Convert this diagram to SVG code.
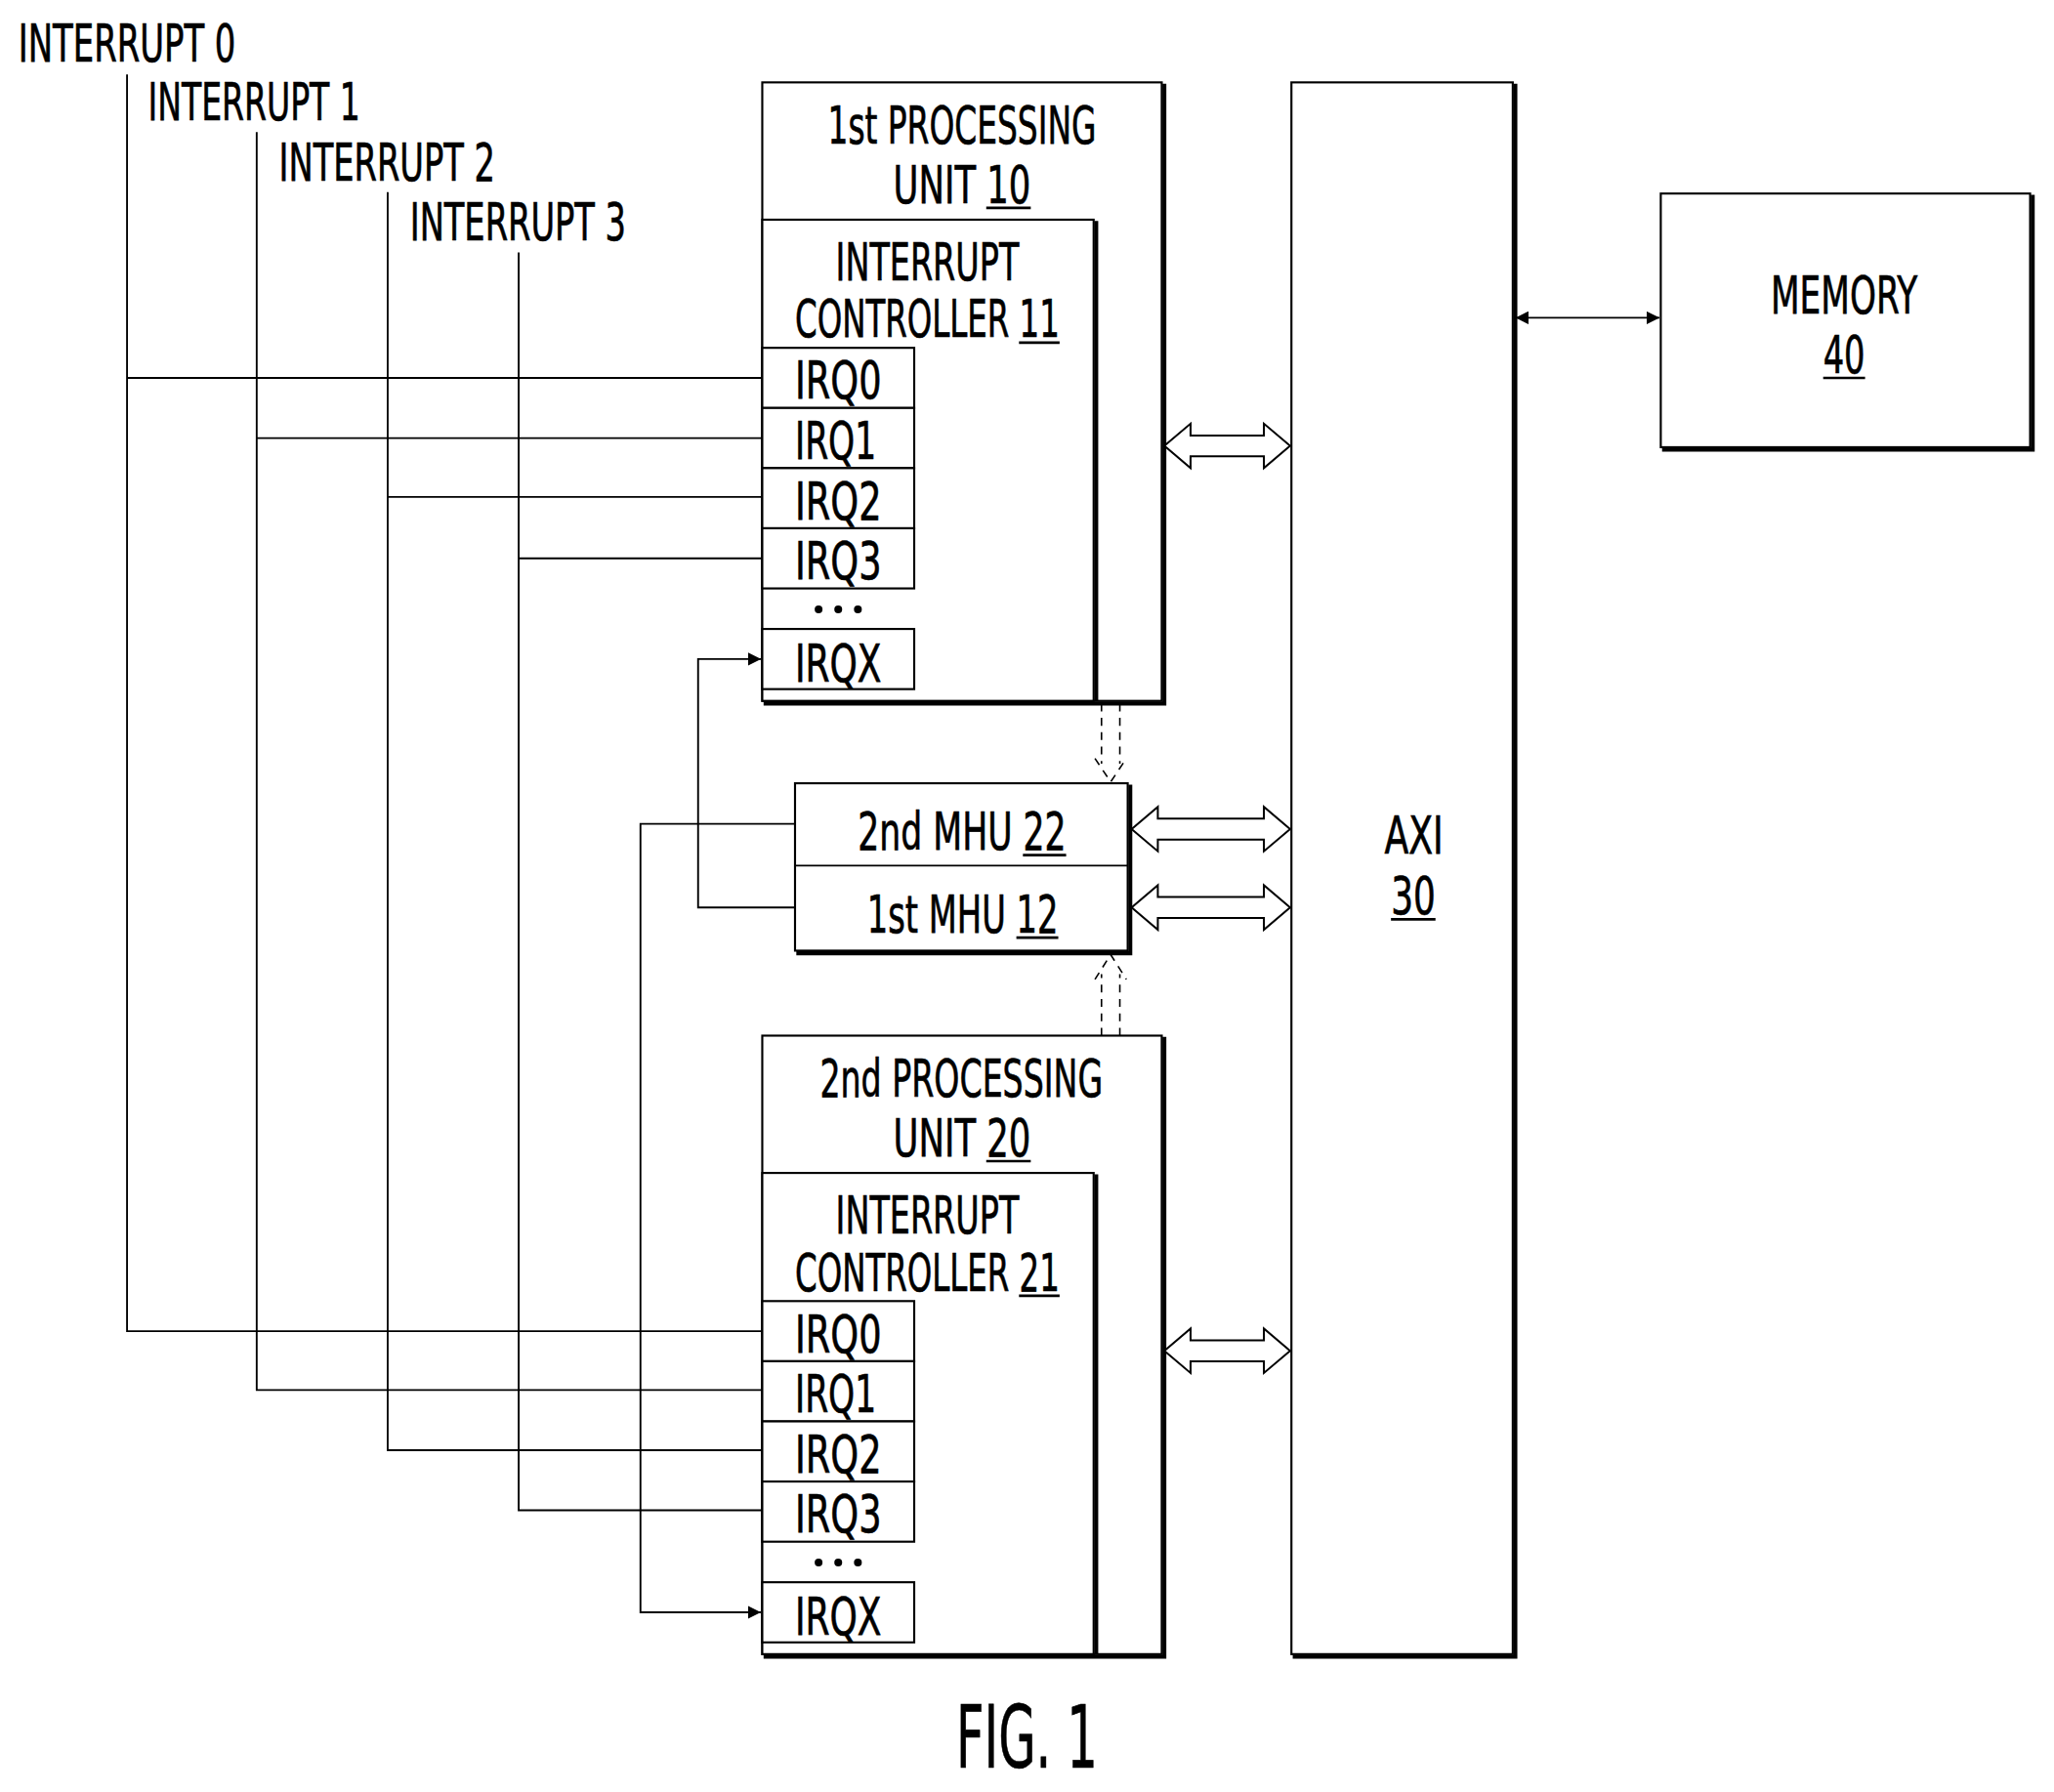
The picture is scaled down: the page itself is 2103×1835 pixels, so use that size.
<svg xmlns="http://www.w3.org/2000/svg" width="2103" height="1835" viewBox="0 0 2103 1835">
<defs>
<style>
text{font-family:"DejaVu Sans Condensed","DejaVu Sans",sans-serif;font-size:40px;fill:#000;stroke:#000;stroke-width:0.5}
.b{fill:#fff;stroke:#000;stroke-width:1.6}
.sh{fill:none;stroke:#000;stroke-width:3}
.l{fill:none;stroke:#000;stroke-width:1.4}
.u{stroke:#000;stroke-width:2}
.d{fill:none;stroke:#000;stroke-width:1.2;stroke-dasharray:6,5}
.ba{fill:#fff;stroke:#000;stroke-width:1.5}
</style>
<marker id="ah" viewBox="0 0 10 10" refX="10" refY="5" markerWidth="10" markerHeight="10" markerUnits="userSpaceOnUse" orient="auto-start-reverse"><path d="M0,0 L10,5 L0,10 Z" fill="#000"/></marker>
</defs>
<rect width="2103" height="1835" fill="#fff"/>
<g transform="scale(1.341,1.339)">
<g id="labels">
<text x="14" y="47" textLength="166" lengthAdjust="spacingAndGlyphs">INTERRUPT 0</text>
<text x="113" y="92" textLength="162" lengthAdjust="spacingAndGlyphs">INTERRUPT 1</text>
<text x="213" y="138" textLength="165" lengthAdjust="spacingAndGlyphs">INTERRUPT 2</text>
<text x="313" y="184" textLength="165" lengthAdjust="spacingAndGlyphs">INTERRUPT 3</text>
</g>
<g id="pu1">
<rect class="b" x="582" y="63" width="305" height="473"/>
<polyline class="sh" points="889,64 889,538 583,538"/>
<text x="632" y="110" textLength="205" lengthAdjust="spacingAndGlyphs">1st PROCESSING</text>
<text x="682" y="155" textLength="105" lengthAdjust="spacingAndGlyphs">UNIT 10</text>
<line class="u" x1="753" y1="159" x2="787" y2="159"/>
</g>
<g id="ic11">
<rect class="b" x="582" y="168" width="253" height="368"/>
<line class="sh" x1="837" y1="169" x2="837" y2="536"/>
<text x="638" y="214" textLength="140" lengthAdjust="spacingAndGlyphs">INTERRUPT</text>
<text x="607" y="258" textLength="202" lengthAdjust="spacingAndGlyphs">CONTROLLER 11</text>
<line class="u" x1="778" y1="262" x2="809" y2="262"/>
<rect class="b" x="582" y="266" width="116" height="46"/><text x="607" y="305" textLength="66" lengthAdjust="spacingAndGlyphs">IRQ0</text>
<rect class="b" x="582" y="312" width="116" height="46"/><text x="607" y="351" textLength="62" lengthAdjust="spacingAndGlyphs">IRQ1</text>
<rect class="b" x="582" y="358" width="116" height="46"/><text x="607" y="397" textLength="66" lengthAdjust="spacingAndGlyphs">IRQ2</text>
<rect class="b" x="582" y="404" width="116" height="46"/><text x="607" y="443" textLength="66" lengthAdjust="spacingAndGlyphs">IRQ3</text>
<circle cx="625" cy="466" r="3"/><circle cx="640" cy="466" r="3"/><circle cx="655" cy="466" r="3"/>
<rect class="b" x="582" y="481" width="116" height="46"/><text x="607" y="521" textLength="66" lengthAdjust="spacingAndGlyphs">IRQX</text>
</g>
<g id="mhu">
<rect class="b" x="607" y="599" width="254" height="128"/>
<polyline class="sh" points="863,600 863,729 608,729"/>
<line class="l" x1="607" y1="662" x2="861" y2="662"/>
<text x="655" y="650" textLength="159" lengthAdjust="spacingAndGlyphs">2nd MHU 22</text>
<line class="u" x1="781" y1="654" x2="814" y2="654"/>
<text x="662" y="713" textLength="146" lengthAdjust="spacingAndGlyphs">1st MHU 12</text>
<line class="u" x1="776" y1="717" x2="808" y2="717"/>
</g>
<g id="pu2">
<rect class="b" x="582" y="792" width="305" height="473"/>
<polyline class="sh" points="889,793 889,1267 583,1267"/>
<text x="626" y="839" textLength="216" lengthAdjust="spacingAndGlyphs">2nd PROCESSING</text>
<text x="682" y="884" textLength="105" lengthAdjust="spacingAndGlyphs">UNIT 20</text>
<line class="u" x1="753" y1="888" x2="787" y2="888"/>
</g>
<g id="ic21">
<rect class="b" x="582" y="897" width="253" height="368"/>
<line class="sh" x1="837" y1="898" x2="837" y2="1265"/>
<text x="638" y="943" textLength="140" lengthAdjust="spacingAndGlyphs">INTERRUPT</text>
<text x="607" y="987" textLength="202" lengthAdjust="spacingAndGlyphs">CONTROLLER 21</text>
<line class="u" x1="778" y1="991" x2="809" y2="991"/>
<rect class="b" x="582" y="995" width="116" height="46"/><text x="607" y="1034" textLength="66" lengthAdjust="spacingAndGlyphs">IRQ0</text>
<rect class="b" x="582" y="1041" width="116" height="46"/><text x="607" y="1080" textLength="62" lengthAdjust="spacingAndGlyphs">IRQ1</text>
<rect class="b" x="582" y="1087" width="116" height="46"/><text x="607" y="1126" textLength="66" lengthAdjust="spacingAndGlyphs">IRQ2</text>
<rect class="b" x="582" y="1133" width="116" height="46"/><text x="607" y="1172" textLength="66" lengthAdjust="spacingAndGlyphs">IRQ3</text>
<circle cx="625" cy="1195" r="3"/><circle cx="640" cy="1195" r="3"/><circle cx="655" cy="1195" r="3"/>
<rect class="b" x="582" y="1210" width="116" height="46"/><text x="607" y="1250" textLength="66" lengthAdjust="spacingAndGlyphs">IRQX</text>
</g>
<g id="axi">
<rect class="b" x="986" y="63" width="169" height="1202"/>
<polyline class="sh" points="1157,64 1157,1267 987,1267"/>
<text x="1057" y="653" textLength="45" lengthAdjust="spacingAndGlyphs">AXI</text>
<text x="1062" y="699" textLength="34" lengthAdjust="spacingAndGlyphs">30</text>
<line class="u" x1="1062" y1="703" x2="1096" y2="703"/>
</g>
<g id="memory">
<rect class="b" x="1268" y="148" width="282" height="194"/>
<polyline class="sh" points="1552,149 1552,344 1269,344"/>
<text x="1352" y="240" textLength="112" lengthAdjust="spacingAndGlyphs">MEMORY</text>
<text x="1392" y="285" textLength="32" lengthAdjust="spacingAndGlyphs">40</text>
<line class="u" x1="1392" y1="289" x2="1424" y2="289"/>
</g>
<g id="connectors">
<polyline class="l" points="97,57 97,1018 582,1018"/>
<polyline class="l" points="196,101 196,1063 582,1063"/>
<polyline class="l" points="296,147 296,1109 582,1109"/>
<polyline class="l" points="396,193 396,1155 582,1155"/>
<line class="l" x1="97" y1="289" x2="582" y2="289"/>
<line class="l" x1="196" y1="335" x2="582" y2="335"/>
<line class="l" x1="296" y1="380" x2="582" y2="380"/>
<line class="l" x1="396" y1="427" x2="582" y2="427"/>
<polyline class="l" points="607,694 533,694 533,504 581,504" marker-end="url(#ah)"/>
<polyline class="l" points="607,630 489,630 489,1233 581,1233" marker-end="url(#ah)"/>
<line class="l" x1="1157" y1="243" x2="1267" y2="243" marker-start="url(#ah)" marker-end="url(#ah)"/>
<line class="d" x1="841" y1="538" x2="841" y2="584"/>
<line class="d" x1="855" y1="538" x2="855" y2="584"/>
<polyline class="d" points="836,580 848,598 860,580"/>
<line class="d" x1="841" y1="792" x2="841" y2="745"/>
<line class="d" x1="855" y1="792" x2="855" y2="745"/>
<polyline class="d" points="836,749 848,730 860,749"/>
<path class="ba" d="M889,341 L909,324 L909,333 L965,333 L965,324 L985,341 L965,358 L965,349 L909,349 L909,358 Z"/>
<path class="ba" d="M864,634 L884,617 L884,626 L965,626 L965,617 L985,634 L965,651 L965,642 L884,642 L884,651 Z"/>
<path class="ba" d="M864,694 L884,677 L884,686 L965,686 L965,677 L985,694 L965,711 L965,702 L884,702 L884,711 Z"/>
<path class="ba" d="M889,1033 L909,1016 L909,1025 L965,1025 L965,1016 L985,1033 L965,1050 L965,1041 L909,1041 L909,1050 Z"/>
</g>
<text x="730" y="1352" style="font-size:66px" textLength="108" lengthAdjust="spacingAndGlyphs">FIG. 1</text>
</g>
</svg>
